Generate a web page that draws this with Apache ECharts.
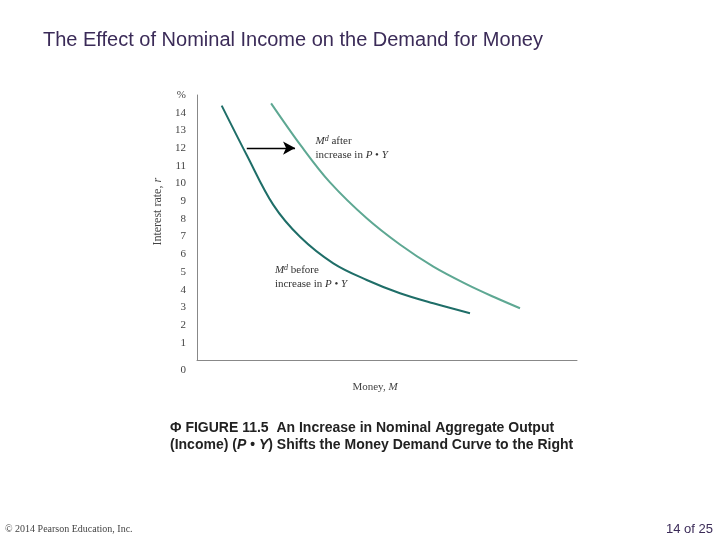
<!DOCTYPE html>
<html>
<head>
<meta charset="utf-8">
<script src="https://cdn.jsdelivr.net/npm/echarts@6/dist/echarts.min.js"></script>
<style>
  html, body { margin: 0; padding: 0; background: #fff; }
  #main { width: 720px; height: 540px; }
</style>
</head>
<body>
<div id="main"></div>
<script>
/*
 * 名义收入对货币需求的影响
 */

// Md before increase in P•Y  [money, interest rate]
var beforeCurve = [
  [6.5, 14.4], [13.08, 11.61], [20.08, 8.79], [27.1, 6.99], [35.87, 5.49],
  [44.66, 4.55], [53.42, 3.8], [62.18, 3.23], [71.84, 2.67]
];
// Md after increase in P•Y
var afterCurve = [
  [19.5, 14.53], [27.55, 12.08], [35.0, 10.06], [44.66, 8.03], [53.4, 6.55],
  [62.2, 5.3], [71.0, 4.3], [78.0, 3.6], [85, 2.95]
];
// shift arrow
var arrowFrom = [13.1, 12.0];
var arrowTo = [25.8, 12.0];
// label anchors
var afterLabelAt = [31.2, 12.0];
var beforeLabelAt = [20.5, 4.72];

var serif = '"Liberation Serif", "DejaVu Serif", serif';
var sans = '"Liberation Sans", Arial, sans-serif';

var labelRich = {
  m: { fontFamily: serif, fontStyle: 'italic', fontSize: 11, color: '#333' },
  sup: { fontFamily: serif, fontStyle: 'italic', fontSize: 8, color: '#333', verticalAlign: 'top', padding: [0, 0, 6, 0] },
  t: { fontFamily: serif, fontSize: 11, color: '#333', lineHeight: 13 },
  i: { fontFamily: serif, fontStyle: 'italic', fontSize: 11, color: '#333', lineHeight: 13 }
};

var option = {
  backgroundColor: '#fff',
  animation: false,
  title: {
    text: 'The Effect of Nominal Income on the Demand for Money',
    left: 38,
    top: 25,
    textStyle: { fontFamily: sans, fontSize: 20, fontWeight: 'normal', color: '#3b2b58' }
  },
  grid: { left: 197, right: 143, top: 95, bottom: 179.5 },
  xAxis: {
    type: 'value',
    min: 0,
    max: 100,
    name: '{t|Money, }{i|M}',
    nameLocation: 'middle',
    nameGap: 21,
    nameTextStyle: {
      padding: [0, 24, 0, 0],
      rich: {
        t: { fontFamily: serif, fontSize: 11, color: '#444' },
        i: { fontFamily: serif, fontSize: 11, fontStyle: 'italic', color: '#444' }
      }
    },
    axisLine: { show: true, lineStyle: { color: '#888', width: 1 } },
    axisTick: { show: false },
    axisLabel: { show: false },
    splitLine: { show: false }
  },
  yAxis: {
    type: 'value',
    min: 0,
    max: 15,
    interval: 1,
    name: '{t|Interest rate, }{i|r}',
    nameLocation: 'middle',
    nameGap: 27,
    nameTextStyle: {
      padding: [0, 0, 0, 32],
      rich: {
        t: { fontFamily: serif, fontSize: 12, color: '#444' },
        i: { fontFamily: serif, fontSize: 12, fontStyle: 'italic', color: '#444' }
      }
    },
    axisLine: { show: true, lineStyle: { color: '#888', width: 1 } },
    axisTick: { show: false },
    splitLine: { show: false },
    axisLabel: {
      margin: 11,
      fontFamily: serif,
      fontSize: 11,
      color: '#444',
      formatter: function (v) {
        if (v === 15) return '%';
        if (v === 0) return '{z|0}';
        return String(v);
      },
      rich: { z: { fontFamily: serif, fontSize: 11, color: '#444', padding: [20, 0, 0, 0] } }
    }
  },
  graphic: [
    {
      type: 'text', left: 170, top: 421,
      style: {
        text: '\u03A6 FIGURE 11.5  An Increase in Nominal Aggregate Output',
        font: 'bold 14px ' + sans, fill: '#222'
      }
    },
    {
      type: 'text', left: 170, top: 438,
      style: {
        text: '{b|(Income) (}{bi|P \u2022 Y}{b|) Shifts the Money Demand Curve to the Right}',
        rich: {
          b: { font: 'bold 14px ' + sans, fill: '#222' },
          bi: { font: 'italic bold 14px ' + sans, fill: '#222' }
        }
      }
    },
    {
      type: 'text', left: 5, top: 524,
      style: { text: '\u00A9 2014 Pearson Education, Inc.', font: '10px ' + serif, fill: '#444' }
    },
    {
      type: 'text', right: 7, top: 523,
      style: { text: '14 of 25', font: '13px ' + sans, fill: '#3b2b58' }
    }
  ],
  series: [
    {
      name: 'before',
      type: 'line',
      smooth: 0.35,
      showSymbol: false,
      data: beforeCurve,
      lineStyle: { color: '#1f6e68', width: 2 },
      markLine: {
        silent: true,
        symbol: ['none', 'arrow'],
        symbolSize: [10, 12],
        label: { show: false },
        lineStyle: { color: '#000', width: 1.3, type: 'solid' },
        data: [[{ coord: arrowFrom }, { coord: arrowTo }]]
      },
      markPoint: {
        symbolSize: 0,
        data: [{
          coord: beforeLabelAt,
          label: {
            show: true, position: 'right', distance: 0, align: 'left',
            formatter: '{m|M}{sup|d}{t| before}\n{t|increase in }{i|P}{t| \u2022 }{i|Y}',
            rich: labelRich
          }
        }]
      }
    },
    {
      name: 'after',
      type: 'line',
      smooth: 0.35,
      showSymbol: false,
      data: afterCurve,
      lineStyle: { color: '#5ea893', width: 2 },
      markPoint: {
        symbolSize: 0,
        data: [{
          coord: afterLabelAt,
          label: {
            show: true, position: 'right', distance: 0, align: 'left',
            formatter: '{m|M}{sup|d}{t| after}\n{t|increase in }{i|P}{t| \u2022 }{i|Y}',
            rich: labelRich
          }
        }]
      }
    }
  ]
};

var myEchart = echarts.init(document.getElementById('main'));
myEchart.setOption(option);
</script>
</body>
</html>
